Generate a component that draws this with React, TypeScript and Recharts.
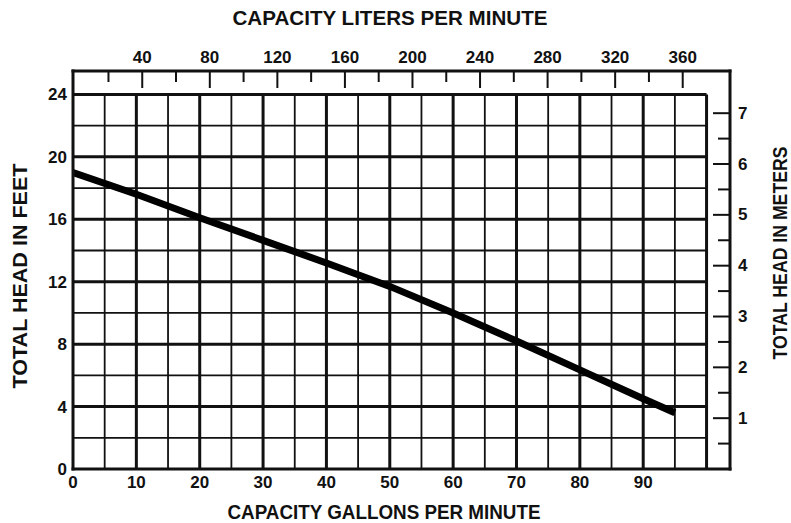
import React from 'react';
import { LineChart, Line, XAxis, YAxis, ReferenceLine } from 'recharts';

// pump curve
const GPM = [0, 10, 20, 30, 40, 50, 60, 70, 80, 90, 95];
const HEAD_FT = [19.0, 17.6, 16.1, 14.65, 13.2, 11.7, 10.0, 8.2, 6.35, 4.5, 3.6];

const GPM_TICKS = [0, 10, 20, 30, 40, 50, 60, 70, 80, 90];
const FT_TICKS = [0, 4, 8, 12, 16, 20, 24];
const LPM_TICKS = [20, 40, 60, 80, 100, 120, 140, 160, 180, 200, 220, 240, 260, 280, 300, 320, 340, 360];
const METER_TICKS = [0.5, 1, 1.5, 2, 2.5, 3, 3.5, 4, 4.5, 5, 5.5, 6, 6.5, 7];

// grid lines every 5 gpm and every 2 ft
const GRID_GPM = [5, 10, 15, 20, 25, 30, 35, 40, 45, 50, 55, 60, 65, 70, 75, 80, 85, 90, 95, 100];
const GRID_FT = [2, 4, 6, 8, 10, 12, 14, 16, 18, 20, 22, 24];

const LPM_PER_GPM = 3.785;

const data = GPM.map((g, i) => ({ gpm: g, lpm: g * LPM_PER_GPM, ft: HEAD_FT[i] }));

const FONT = '"Liberation Sans", Arial, Helvetica, sans-serif';
const INK = '#111';

const tickStyle = { fill: INK, fontSize: 17, fontWeight: 700, fontFamily: FONT };
const axisLineStyle = { stroke: INK, strokeWidth: 3, strokeLinecap: 'square' as const };

const LpmTick = (props: any) => {
  const { x, y, payload } = props;
  const major = payload.value % 40 === 0;
  return (
    <g>
      <line x1={x} y1={y} x2={x} y2={y + (major ? 17 : 11)} stroke={INK} strokeWidth={2} />
      {major && (
        <text x={x} y={y - 8} textAnchor="middle" {...tickStyle}>
          {payload.value}
        </text>
      )}
    </g>
  );
};

const MeterTick = (props: any) => {
  const { x, y, payload } = props;
  const major = Number.isInteger(payload.value);
  return (
    <g>
      <line x1={x - (major ? 17 : 12)} y1={y} x2={x} y2={y} stroke={INK} strokeWidth={2} />
      {major && (
        <text x={x + 8} y={y} dominantBaseline="central" textAnchor="start" {...tickStyle}>
          {payload.value}
        </text>
      )}
    </g>
  );
};

const Title = (props: any) => {
  const { tx, ty, rot = 0, text, len } = props;
  return (
    <text
      x={tx}
      y={ty}
      transform={rot ? `rotate(${rot} ${tx} ${ty})` : undefined}
      textAnchor="middle"
      dominantBaseline="central"
      fill={INK}
      fontSize={20}
      fontWeight={700}
      fontFamily={FONT}
      textLength={len}
      lengthAdjust="spacingAndGlyphs"
    >
      {text}
    </text>
  );
};

export default function App() {
  return (
    <div style={{ position: 'fixed', left: 0, top: 0, width: 791, height: 523, background: '#fff' }}>
      <LineChart width={791} height={523} data={data} margin={{ top: 0, right: 0, bottom: 0, left: 0 }}>
        <XAxis
          xAxisId="gpm"
          orientation="bottom"
          type="number"
          dataKey="gpm"
          domain={[0, 103.7]}
          ticks={GPM_TICKS}
          interval={0}
          height={54}
          tickSize={0}
          tickMargin={7}
          axisLine={axisLineStyle}
          tick={tickStyle}
          allowDataOverflow
          label={<Title tx={384} ty={512} len={313} text="CAPACITY GALLONS PER MINUTE" />}
        />
        <XAxis
          xAxisId="lpm"
          orientation="top"
          type="number"
          dataKey="lpm"
          domain={[-1, 388]}
          ticks={LPM_TICKS}
          interval={0}
          height={71}
          tickSize={0}
          tickMargin={0}
          tickLine={false}
          axisLine={axisLineStyle}
          tick={<LpmTick />}
          allowDataOverflow
          label={<Title tx={390} ty={18} len={315} text="CAPACITY LITERS PER MINUTE" />}
        />
        <YAxis
          yAxisId="ft"
          orientation="left"
          type="number"
          domain={[0, 25.5]}
          ticks={FT_TICKS}
          interval={0}
          width={73}
          tickSize={0}
          tickMargin={6}
          axisLine={axisLineStyle}
          tick={tickStyle}
          allowDataOverflow
          label={<Title tx={20} ty={276} rot={-90} len={225} text="TOTAL HEAD IN FEET" />}
        />
        <YAxis
          yAxisId="m"
          orientation="right"
          type="number"
          domain={[0, 7.83]}
          ticks={METER_TICKS}
          interval={0}
          width={61}
          tickSize={0}
          tickMargin={0}
          tickLine={false}
          axisLine={axisLineStyle}
          tick={<MeterTick />}
          allowDataOverflow
          label={<Title tx={780} ty={253} rot={-90} len={213} text="TOTAL HEAD IN METERS" />}
        />
        {GRID_GPM.map((g) => (
          <ReferenceLine
            key={`v-${g}`}
            xAxisId="gpm"
            yAxisId="ft"
            segment={[{ x: g, y: 0 }, { x: g, y: 24 }]}
            stroke={INK}
            strokeWidth={g % 10 === 0 ? 3 : 1.8}
            ifOverflow="visible"
          />
        ))}
        {GRID_FT.map((f) => (
          <ReferenceLine
            key={`h-${f}`}
            xAxisId="gpm"
            yAxisId="ft"
            segment={[{ x: 0, y: f }, { x: 100, y: f }]}
            stroke={INK}
            strokeWidth={f % 4 === 0 ? 3 : 1.8}
            ifOverflow="visible"
          />
        ))}
        <Line
          xAxisId="gpm"
          yAxisId="ft"
          dataKey="ft"
          type="linear"
          stroke="#000"
          strokeWidth={7}
          dot={false}
          activeDot={false}
          isAnimationActive={false}
        />
      </LineChart>
    </div>
  );
}
